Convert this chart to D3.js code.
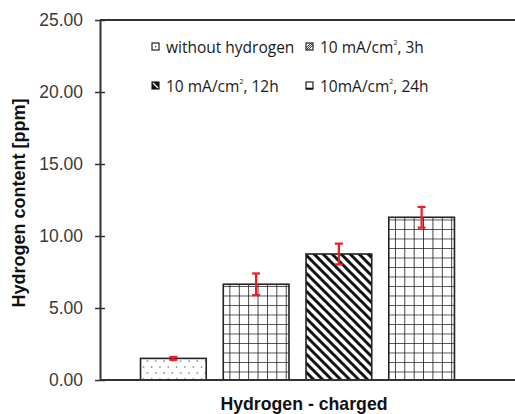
<!DOCTYPE html>
<html>
<head>
<meta charset="utf-8">
<script src="https://cdn.jsdelivr.net/npm/d3@7"></script>
<style>
  body { margin: 0; background: #fff; }
  svg { display: block; }
</style>
</head>
<body>
<svg id="chart"></svg>
<script>
// chart data
var categories = ["without hydrogen", "10 mA/cm2, 3h", "10 mA/cm2, 12h", "10mA/cm2, 24h"];
var values = [1.5, 6.65, 8.75, 11.3];
var errors = [0.1, 0.75, 0.72, 0.72];
var yTicks = [0, 5, 10, 15, 20, 25];
var fills = ["dots", "grid", "diag", "grid"];

var W = 515, H = 414;
var margin = {top: 20, right: 0, bottom: 34, left: 100},
    width = W - margin.left - margin.right,
    height = H - margin.top - margin.bottom;

var svg = d3.select("#chart").attr("width", W).attr("height", H);
var defs = svg.append("defs");
var g = svg.append("g")
    .attr("transform", "translate(" + margin.left + "," + margin.top + ")");

var x = d3.scaleBand()
  .domain(categories)
  .range([32, 363])
  .paddingInner(0.206)
  .paddingOuter(0.103);

var y = d3.scaleLinear()
  .domain([0, 25])
  .range([height, 0]);

// patterns, one per bar so they line up with the bar edges
categories.forEach(function(c, i) {
  var id = "pat" + i;
  var bx = margin.left + x(c);
  var p = defs.append("pattern")
    .attr("id", id)
    .attr("patternUnits", "userSpaceOnUse");
  if (fills[i] == "grid") {
    var cw = x.bandwidth() / 7;
    p.attr("x", bx).attr("y", margin.top + height)
      .attr("width", cw).attr("height", 9.5);
    p.append("rect").attr("width", cw).attr("height", 9.5).attr("fill", "#fff");
    p.append("path")
      .attr("d", "M0,0 V9.5 M0,0 H" + cw)
      .attr("stroke", "#1a1a1a").attr("stroke-width", 1.6).attr("fill", "none");
  } else if (fills[i] == "diag") {
    p.attr("x", bx).attr("y", margin.top).attr("width", 9).attr("height", 9);
    p.append("rect").attr("width", 9).attr("height", 9).attr("fill", "#fff");
    p.append("path")
      .attr("d", "M-2,-2 L11,11 M-2,7 L2,11 M7,-2 L11,2")
      .attr("stroke", "#111").attr("stroke-width", 3);
  } else {
    p.attr("x", bx).attr("y", margin.top + height).attr("width", 8.3).attr("height", 12);
    p.append("rect").attr("width", 8.3).attr("height", 12).attr("fill", "#fff");
    p.append("circle").attr("cx", 2.5).attr("cy", 3).attr("r", 0.75).attr("fill", "#555");
    p.append("circle").attr("cx", 6.6).attr("cy", 9).attr("r", 0.75).attr("fill", "#555");
  }
});

// bars
g.selectAll("rect.bar")
  .data(categories)
  .enter()
  .append("rect")
    .attr("class", "bar")
    .attr("x", function(d) { return x(d); })
    .attr("y", function(d, i) { return y(values[i]); })
    .attr("width", x.bandwidth())
    .attr("height", function(d, i) { return height - y(values[i]); })
    .attr("fill", function(d, i) { return "url(#pat" + i + ")"; })
    .attr("stroke", "#222")
    .attr("stroke-width", 1.6);

// error bars
var eb = g.selectAll("g.err")
  .data(categories)
  .enter()
  .append("g")
    .attr("class", "err")
    .attr("stroke", "#ee1c25")
    .attr("stroke-width", 2.2);
eb.append("line")
  .attr("x1", function(d) { return x(d) + x.bandwidth() / 2; })
  .attr("x2", function(d) { return x(d) + x.bandwidth() / 2; })
  .attr("y1", function(d, i) { return y(values[i] + errors[i]); })
  .attr("y2", function(d, i) { return y(values[i] - errors[i]); });
[1, -1].forEach(function(s) {
  eb.append("line")
    .attr("x1", function(d) { return x(d) + x.bandwidth() / 2 - 4; })
    .attr("x2", function(d) { return x(d) + x.bandwidth() / 2 + 4; })
    .attr("y1", function(d, i) { return y(values[i] + s * errors[i]); })
    .attr("y2", function(d, i) { return y(values[i] + s * errors[i]); });
});

// frame lines
g.append("line")
  .attr("x1", 0).attr("x2", width).attr("y1", 0).attr("y2", 0)
  .attr("stroke", "#333").attr("stroke-width", 2);
g.append("line")
  .attr("x1", 0).attr("x2", width).attr("y1", height).attr("y2", height)
  .attr("stroke", "#333").attr("stroke-width", 2);

// y axis
var yAxis = g.append("g")
  .call(d3.axisLeft(y).tickValues(yTicks).tickFormat(d3.format(".2f"))
    .tickSizeInner(5).tickSizeOuter(0).tickPadding(12));
yAxis.select(".domain").attr("stroke", "#333").attr("stroke-width", 2);
yAxis.selectAll(".tick line")
  .attr("x1", -5).attr("x2", 5)
  .attr("stroke", "#333").attr("stroke-width", 1.5);
yAxis.selectAll(".tick text")
  .attr("font-family", "Liberation Sans, Arial, sans-serif")
  .attr("font-size", 17.5)
  .attr("fill", "#3a3a3a");

// axis titles
svg.append("text")
  .attr("transform", "translate(25," + (margin.top + height / 2 + 3) + ") rotate(-90)")
  .attr("text-anchor", "middle")
  .attr("font-family", "Liberation Sans, Arial, sans-serif")
  .attr("font-weight", "bold")
  .attr("font-size", 18)
  .attr("fill", "#111")
  .text("Hydrogen content [ppm]");

svg.append("text")
  .attr("x", 304)
  .attr("y", 410)
  .attr("text-anchor", "middle")
  .attr("font-family", "Liberation Sans, Arial, sans-serif")
  .attr("font-weight", "bold")
  .attr("font-size", 17.7)
  .attr("fill", "#111")
  .text("Hydrogen - charged");

// legend
var legPos = [[152, 47], [306, 47], [152, 86], [306, 86]];
var leg = svg.selectAll("g.leg")
  .data(categories)
  .enter()
  .append("g")
    .attr("class", "leg")
    .attr("transform", function(d, i) { return "translate(" + legPos[i][0] + "," + legPos[i][1] + ")"; });

leg.append("rect")
  .attr("x", 0).attr("y", -4).attr("width", 7).attr("height", 7)
  .attr("fill", "#fff").attr("stroke", "#222").attr("stroke-width", 1.2);
leg.each(function(d, i) {
  var s = d3.select(this);
  if (i == 0) {
    s.append("rect").attr("x", 3).attr("y", -1).attr("width", 1.2).attr("height", 1.2).attr("fill", "#222");
  } else if (i == 1) {
    s.append("path").attr("d", "M0,1 L5,-4 M0,3 L7,-4 M2,3 L7,-2")
      .attr("stroke", "#333").attr("stroke-width", 1);
  } else if (i == 2) {
    s.append("rect").attr("x", 0).attr("y", -4).attr("width", 7).attr("height", 7).attr("fill", "#111");
    s.append("path").attr("d", "M1,-3 L6,2").attr("stroke", "#fff").attr("stroke-width", 1.3);
  } else {
    s.append("line").attr("x1", 0).attr("x2", 7).attr("y1", 2.6).attr("y2", 2.6)
      .attr("stroke", "#111").attr("stroke-width", 1.8);
  }
});

var lt = leg.append("text")
  .attr("x", 14)
  .attr("y", 5.5)
  .attr("font-family", "Open Sans, sans-serif")
  .attr("font-size", 15.5)
  .attr("fill", "#1a1a1a");
lt.each(function(d) {
  var t = d3.select(this);
  var k = d.indexOf("cm2");
  if (k < 0) { t.text(d); return; }
  t.append("tspan").text(d.slice(0, k + 2));
  t.append("tspan").attr("font-size", 7).attr("dy", -8).text("2");
  t.append("tspan").attr("dy", 8).text(d.slice(k + 3));
});
</script>
</body>
</html>
